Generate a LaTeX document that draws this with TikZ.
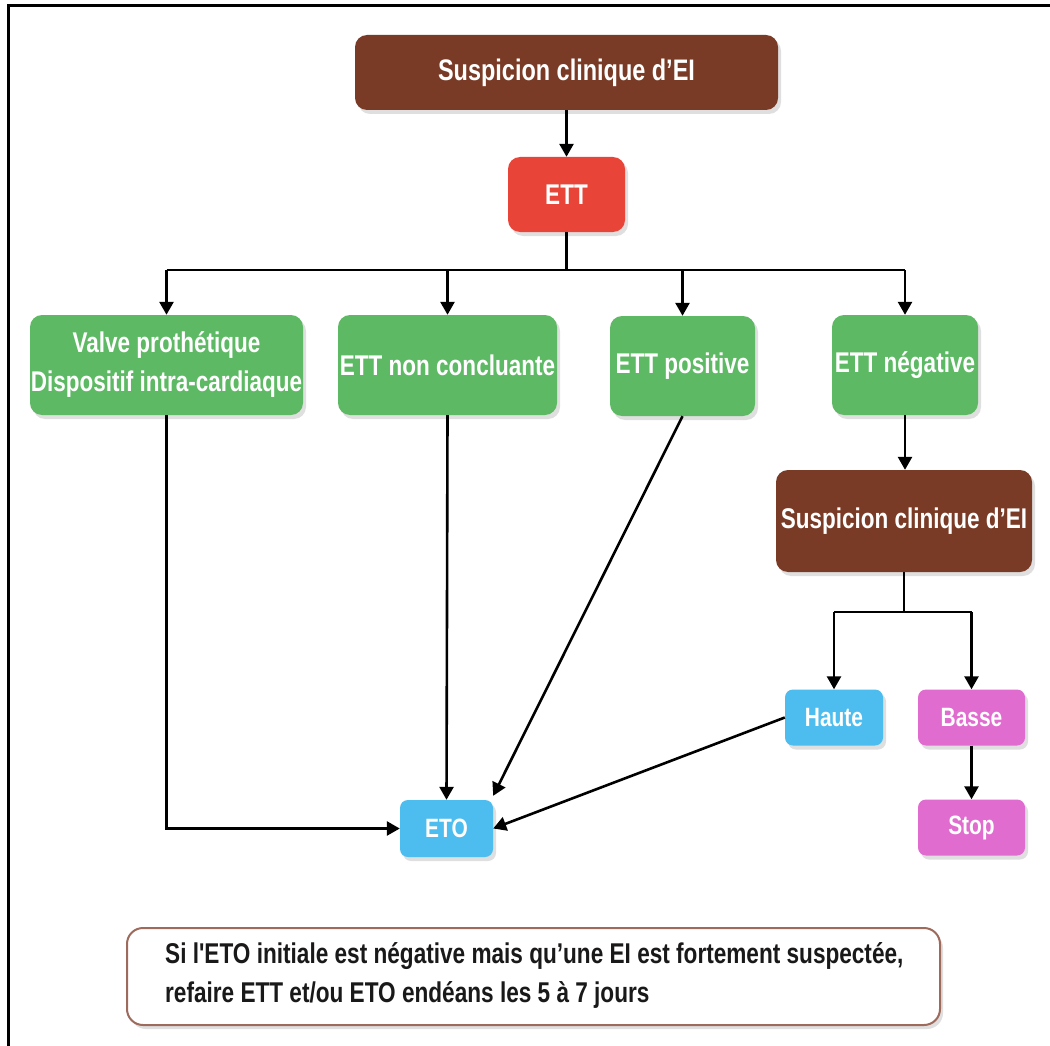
\documentclass[tikz,border=0pt]{standalone}
\usepackage{fontspec}
\newfontfamily\lblfont{Liberation Sans}[FakeStretch=0.79]
\usetikzlibrary{arrows.meta,shadows}
\definecolor{cbrown}{HTML}{7A3B26}
\definecolor{cred}{HTML}{E84538}
\definecolor{cgreen}{HTML}{5DB963}
\definecolor{cblue}{HTML}{4DBCEE}
\definecolor{cpink}{HTML}{E06CCF}
\definecolor{cnote}{HTML}{9E6A5C}
\tikzset{
  boxbase/.style={rounded corners=12pt, inner sep=0pt, align=center, text=white,
    font=\lblfont\bfseries\fontsize{28.5}{39}\selectfont,
    drop shadow={opacity=0.25, shadow xshift=3pt, shadow yshift=-4pt}},
  brownbox/.style={boxbase, fill=cbrown},
  redbox/.style={boxbase, fill=cred},
  greenbox/.style={boxbase, fill=cgreen},
  bluebox/.style={boxbase, fill=cblue, rounded corners=8pt, font=\lblfont\bfseries\fontsize{26.5}{30}\selectfont},
  pinkbox/.style={boxbase, fill=cpink, rounded corners=8pt, font=\lblfont\bfseries\fontsize{26.5}{30}\selectfont},
  notebox/.style={rounded corners=16pt, draw=cnote, line width=2pt, fill=white, inner sep=0pt,
    drop shadow={opacity=0.25, shadow xshift=3pt, shadow yshift=-4pt}},
  conn/.style={line width=2.6pt, draw=black},
  arr/.style={conn, -{Triangle[width=14pt,length=13pt]}}
}
\begin{document}
\begin{tikzpicture}[x=1pt,y=-1pt]
\useasboundingbox (0,0) rectangle (1050,1046);
\fill[white] (0,0) rectangle (1050,1046);
% frame
\coordinate (fr1) at (8,1046);
\coordinate (fr2) at (8,6);
\coordinate (fr3) at (1050,6);
\draw[line width=3pt, black] (fr1) -- (fr2) -- (fr3);

\node[brownbox, minimum width=423pt, minimum height=75pt, font=\lblfont\bfseries\fontsize{29.7}{36}\selectfont] (top) at (566.5,72.5) {Suspicion clinique d’EI};
\node[redbox, minimum width=117pt, minimum height=75pt] (ett) at (566.5,194.5) {ETT};

\node[greenbox, minimum width=273pt, minimum height=100pt] (valve) at (166.5,365) {Valve prothétique\\Dispositif intra-cardiaque};
\node[greenbox, minimum width=219pt, minimum height=100pt] (nonc) at (447.5,365) {ETT non concluante};
\node[greenbox, minimum width=145pt, minimum height=100pt] (pos) at (682.5,366) {ETT positive};
\node[greenbox, minimum width=146pt, minimum height=100pt] (neg) at (905,365) {ETT négative};

\node[brownbox, minimum width=256pt, minimum height=102pt] (susp) at (904,521) {Suspicion clinique d’EI};

\node[bluebox, minimum width=98pt, minimum height=56pt] (haute) at (834,717.5) {Haute};
\node[pinkbox, minimum width=107pt, minimum height=56pt] (basse) at (971.5,717.5) {Basse};
\node[pinkbox, minimum width=107pt, minimum height=56pt] (stop) at (971.5,827.5) {Stop};
\node[bluebox, minimum width=93pt, minimum height=57pt] (eto) at (446.5,828.5) {ETO};

\node[notebox, minimum width=813pt, minimum height=97pt] (note) at (533.5,976.5) {};
\node[anchor=west, align=left, inner sep=0pt, text=black!90,
  font=\lblfont\bfseries\fontsize{28.6}{39}\selectfont] (notetext) at (165,975.5)
  {Si l'ETO initiale est négative mais qu’une EI est fortement suspectée,\\refaire ETT et/ou ETO endéans les 5 à 7 jours};

% connectors
\coordinate (split) at (566.5,270);
\coordinate (sv) at (166.5,270);
\coordinate (sn) at (447.5,270);
\coordinate (sp) at (682.5,270);
\coordinate (sg) at (905,270);
\draw[arr] (top.south) -- (ett.north);
\draw[conn] (ett.south) -- (split);
\draw[conn] (sv) -- (sg);
\draw[arr] (sv) -- (valve.north);
\draw[arr] (sn) -- (nonc.north);
\draw[arr] (sp) -- (pos.north);
\draw[arr] (sg) -- (neg.north);
\draw[arr] (neg.south) -- (neg.south |- susp.north);

\coordinate (s2) at (904,612);
\coordinate (s2h) at (834,612);
\coordinate (s2b) at (971.5,612);
\draw[conn] (susp.south) -- (s2);
\draw[conn] (s2h) -- (s2b);
\draw[arr] (s2h) -- (haute.north);
\draw[arr] (s2b) -- (basse.north);
\draw[arr] (basse.south) -- (stop.north);

\draw[arr] (valve.south) |- (eto.west);
\draw[arr] (nonc.south) -- (eto.north);
\draw[arr] (pos.south) -- ([yshift=4pt]eto.north east);
\draw[arr] (haute.west) -- (eto.east);
\end{tikzpicture}
\end{document}
